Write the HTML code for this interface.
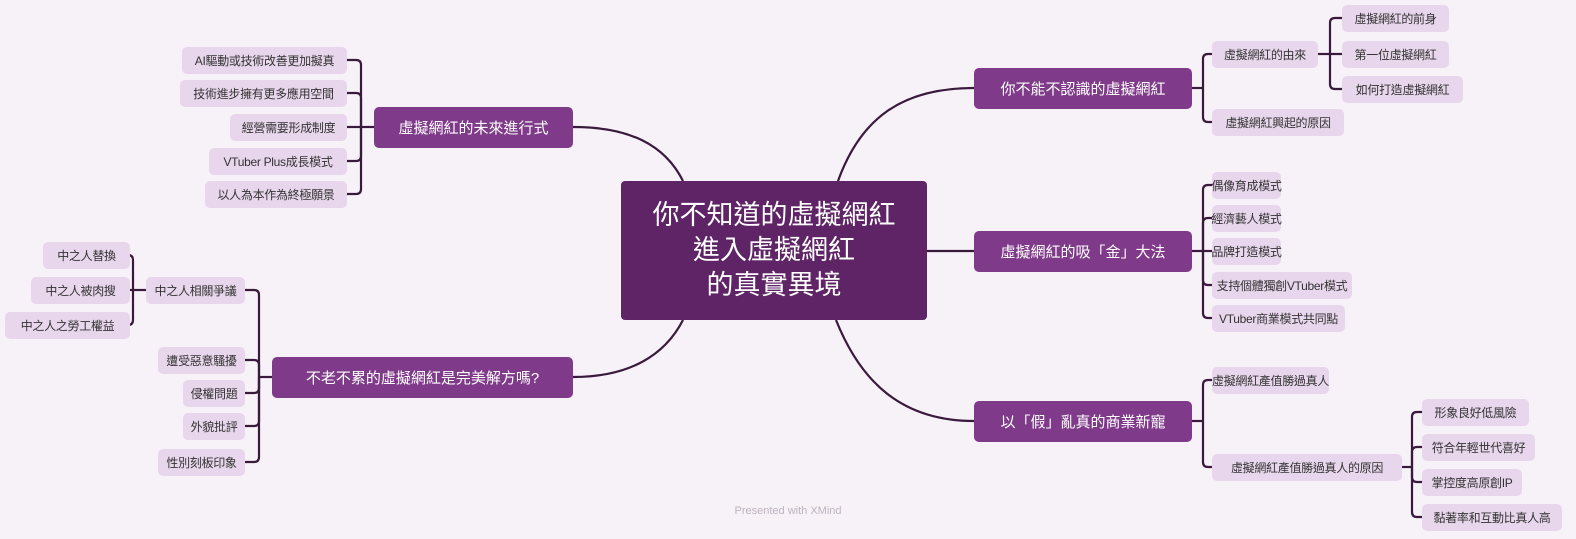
<!DOCTYPE html>
<html><head><meta charset="utf-8">
<style>
body{margin:0;width:1576px;height:539px;background:#f7f1f8;position:relative;overflow:hidden;font-family:"Liberation Sans","Noto Sans CJK TC",sans-serif;}
.n{position:absolute;box-sizing:border-box;display:flex;align-items:center;justify-content:center;white-space:nowrap;}
.c{background:#5f2466;color:#fff;font-size:27px;line-height:35px;text-align:center;border-radius:4px;flex-direction:column;}
.m{background:#7f3a8a;color:#fff;font-size:15px;border-radius:5px;height:41px;}
.s{background:#e8d7ec;color:#333;font-size:12px;border-radius:5px;height:27px;letter-spacing:-0.3px;}
svg{position:absolute;left:0;top:0;}
.f{position:absolute;left:0;width:1576px;top:505px;text-align:center;font-size:11px;color:#bdb3c0;}
</style></head><body>
<svg id="sv" width="1576" height="539"></svg>
<div class="n c" style="left:621px;top:181px;width:306px;height:139px;"><div>你不知道的虛擬網紅</div><div>進入虛擬網紅</div><div>的真實異境</div></div>
<div id="nodes"></div>
<div class="f">Presented with XMind</div>
<script>
var S='',H='';
function node(cls,t,l,r,cy){var h=cls=='m'?41:27;H+='<div class="n '+cls+'" style="left:'+l+'px;top:'+(cy-h/2)+'px;width:'+(r-l)+'px">'+t+'</div>';}
function br(px,py,bx,kids,dir){
 S+='<path d="M'+px+' '+py+'H'+bx+'"/>';
 kids.forEach(function(k){var cx=k[0],cy=k[1],r=5;
  if(Math.abs(cy-py)<3){S+='<path d="M'+bx+' '+cy+'H'+cx+'"/>';return;}
  var s=cy>py?1:-1;
  S+='<path d="M'+bx+' '+py+'V'+(cy-s*r)+'Q'+bx+' '+cy+' '+(bx+dir*r)+' '+cy+'H'+cx+'"/>';});
}
S+='<path d="M838 181C860 120 900 88 974 88"/>';
S+='<path d="M927 251H974"/>';
S+='<path d="M836 320C860 380 900 421 974 421"/>';
S+='<path d="M683 181C665 145 630 127 573 127"/>';
S+='<path d="M683 320C665 355 630 377 573 377"/>';
node('m','你不能不認識的虛擬網紅',974,1192,88);
node('m','虛擬網紅的吸「金」大法',974,1192,251);
node('m','以「假」亂真的商業新寵',974,1192,421);
node('m','虛擬網紅的未來進行式',374,573,127);
node('m','不老不累的虛擬網紅是完美解方嗎?',272,573,377);
br(1192,88,1203,[[1212,54],[1212,122]],1);
node('s','虛擬網紅的由來',1212,1318,54);node('s','虛擬網紅興起的原因',1212,1344,122);
br(1318,54,1330,[[1342,18],[1342,54],[1342,89]],1);
node('s','虛擬網紅的前身',1342,1449,18);node('s','第一位虛擬網紅',1342,1449,54);node('s','如何打造虛擬網紅',1342,1463,89);
br(1192,251,1203,[[1212,185],[1212,218],[1212,251],[1212,285],[1212,318]],1);
node('s','偶像育成模式',1212,1281,185);node('s','經濟藝人模式',1212,1281,218);node('s','品牌打造模式',1212,1281,251);
node('s','支持個體獨創VTuber模式',1212,1352,285);node('s','VTuber商業模式共同點',1212,1345,318);
br(1192,421,1203,[[1212,380],[1212,467]],1);
node('s','虛擬網紅產值勝過真人',1212,1329,380);node('s','虛擬網紅產值勝過真人的原因',1212,1402,467);
br(1402,467,1412,[[1422,412],[1422,447],[1422,482],[1422,517]],1);
node('s','形象良好低風險',1422,1529,412);node('s','符合年輕世代喜好',1422,1535,447);node('s','掌控度高原創IP',1422,1522,482);node('s','黏著率和互動比真人高',1422,1562,517);
br(374,127,361,[[347,60],[347,93],[347,127],[347,161],[347,194]],-1);
node('s','AI驅動或技術改善更加擬真',182,347,60);node('s','技術進步擁有更多應用空間',180,347,93);node('s','經營需要形成制度',230,347,127);node('s','VTuber Plus成長模式',209,347,161);node('s','以人為本作為終極願景',205,347,194);
br(272,377,259,[[245,290],[245,360],[245,393],[245,426],[245,462]],-1);
node('s','中之人相關爭議',146,245,290);node('s','遭受惡意騷擾',158,245,360);node('s','侵權問題',183,245,393);node('s','外貌批評',183,245,426);node('s','性別刻板印象',158,245,462);
br(146,290,133,[[120,255],[120,290],[120,325]],-1);
node('s','中之人替換',43,130,255);node('s','中之人被肉搜',31,130,290);node('s','中之人之勞工權益',5,130,325);
document.getElementById('sv').innerHTML='<g fill="none" stroke="#3a1a3c" stroke-width="2.2">'+S+'</g>';
document.getElementById('nodes').innerHTML=H;
</script>
</body></html>
